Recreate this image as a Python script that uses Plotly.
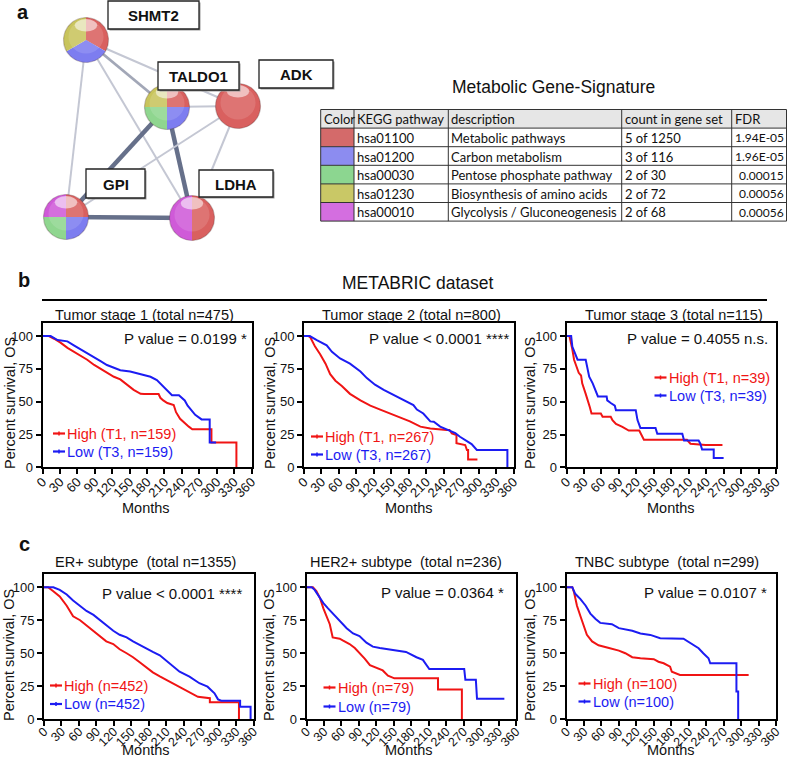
import plotly.graph_objects as go
import numpy as np

W, H = 788, 764
OFF = 0  # page body margin is reset to 0 below
ARIAL = "Liberation Sans, Arial, sans-serif"
CALI = "Lato, Open Sans, sans-serif"
RED = "#f01414"
BLUE = "#1c1cf2"

# ---------------- Panel a : network data ----------------
node_names = ["SHMT2", "TALDO1", "ADK", "GPI", "LDHA"]
node_x = [86, 167, 238, 66, 192]
node_y = [40, 107, 106, 217, 218]
node_r = 22.5
# wedges: (pathway colour key, start angle, end angle) in degrees, math convention
node_wedges = [
    [("red", -30, 90), ("blue", -150, -30), ("yellow", 90, 210)],
    [("red", 0, 90), ("yellow", 90, 180), ("green", 180, 270), ("blue", 270, 360)],
    [("red", 0, 360)],
    [("red", 0, 90), ("magenta", 90, 180), ("green", 180, 270), ("blue", 270, 360)],
    [("red", -90, 90), ("magenta", 90, 270)],
]
sphere_colors = {"red": "#d9605f", "blue": "#7d7df0", "green": "#8fd68f",
                 "yellow": "#c8c45c", "magenta": "#cf5ad8"}
edge_a = ["SHMT2", "SHMT2", "SHMT2", "SHMT2", "TALDO1", "TALDO1", "TALDO1", "ADK", "ADK", "GPI"]
edge_b = ["TALDO1", "GPI", "LDHA", "ADK", "ADK", "GPI", "LDHA", "GPI", "LDHA", "LDHA"]
edge_kind = ["mid", "thin", "thin", "thin", "thin", "thick", "thick", "thin", "thin", "thick"]
label_x0 = [108, 158, 259, 86, 199]
label_y0 = [1, 62, 60, 169, 170]
label_x1 = [199, 239, 333, 145, 273]
label_y1 = [29, 90, 88, 198, 197]

# ---------------- Panel a : table data ----------------
table_header = ["Color", "KEGG pathway", "description", "count in gene set", "FDR"]
table_color = ["#d46a6a", "#8c8cf0", "#8cd690", "#c9c866", "#d46ee0"]
table_kegg = ["hsa01100", "hsa01200", "hsa00030", "hsa01230", "hsa00010"]
table_desc = ["Metabolic pathways", "Carbon metabolism", "Pentose phosphate pathway",
              "Biosynthesis of amino acids", "Glycolysis / Gluconeogenesis"]
table_count = ["5 of 1250", "3 of 116", "2 of 30", "2 of 72", "2 of 68"]
table_fdr = ["1.94E-05", "1.96E-05", "0.00015", "0.00056", "0.00056"]

# ---------------- Kaplan-Meier curves (months, percent survival) ----------------
b1_high_t = [0, 11, 20, 31, 43, 54, 66, 77, 89, 100, 111, 123, 134, 146, 157, 169, 175, 200, 203, 208, 215, 226, 230, 237, 245, 252, 258, 291, 291, 334, 334]
b1_high_s = [100, 100, 98, 95, 91, 88, 85, 82, 78, 75, 72, 69, 67, 63, 59, 56, 55.8, 55.8, 53, 51, 49, 47.5, 42, 37, 33.5, 31, 29, 29, 19, 19, 0]
b1_low_t = [0, 14, 26, 43, 54, 66, 77, 89, 100, 111, 123, 134, 151, 169, 186, 197, 203, 214, 223, 235, 245, 250, 257, 263, 274, 288, 288, 299]
b1_low_s = [100, 100, 97, 96, 93, 90, 87, 84, 81, 78, 76, 74, 73, 71, 69, 66.5, 64, 59, 55, 55, 51, 47, 43.6, 40, 36.5, 36.5, 19, 19]

b2_high_t = [0, 8, 11, 19, 28, 37, 45, 54, 65, 79, 97, 114, 131, 148, 165, 182, 200, 217, 245, 250, 254, 260, 262, 262, 277, 280, 282, 282, 298]
b2_high_s = [100, 100, 99, 92, 86, 79, 71, 66, 62, 56, 51, 47, 44, 41, 38.5, 35, 31, 29.5, 28.4, 28.4, 25.9, 24.6, 24.6, 18.3, 17, 13.2, 13.2, 6, 6]
b2_low_t = [0, 10, 22, 39, 48, 62, 79, 97, 108, 122, 137, 148, 165, 182, 188, 194, 205, 217, 223, 234, 251, 260, 268, 277, 288, 297, 349.5, 349.5]
b2_low_s = [100, 100, 97, 93, 88, 83, 79, 73, 68, 63, 59, 56.5, 52.5, 48.5, 47.4, 44, 41, 35, 34.7, 31, 28, 26, 23.3, 20.8, 17.7, 13.2, 13.2, 0]

b3_high_t = [0, 5, 10, 13, 17, 21, 25, 27, 33, 37, 40, 43, 59, 62, 76, 79, 85, 96, 107, 125, 128, 133, 207, 213, 239, 268]
b3_high_s = [100, 100, 90, 82, 77, 72, 70, 64, 56, 51, 46, 41, 41, 38.5, 38.5, 35.9, 33, 30.8, 28, 28, 25.6, 21, 21, 18, 17, 17]
b3_low_t = [0, 8, 10, 15, 19, 33, 36, 39, 45, 50, 54, 69, 70, 76, 83, 85, 119, 122, 127, 153, 156, 199, 202, 227, 230, 233, 253, 253, 270]
b3_low_s = [100, 100, 92, 87, 82, 82, 76, 69, 64, 59, 54, 54, 51, 49, 47, 43.5, 43.5, 36, 30, 30, 25.5, 25.5, 20.5, 20.5, 18, 13.5, 13.5, 7, 7]

c1_high_t = [0, 7, 16, 27, 39, 50, 62, 73, 85, 96, 107, 119, 130, 142, 153, 165, 176, 187, 199, 216, 233, 250, 264.5, 285, 285, 335, 335]
c1_high_s = [100, 100, 97, 93, 86, 78, 75, 71, 67, 63, 59, 57, 53, 50, 47, 43, 39, 35.5, 32.5, 28.5, 24.7, 20.2, 17, 16, 12.9, 12.9, 0]
c1_low_t = [0, 16, 27, 39, 50, 62, 73, 85, 96, 107, 119, 130, 142, 153, 165, 176, 187, 199, 216, 233, 250, 267, 281, 293, 299, 304.6, 337, 337, 355, 355]
c1_low_s = [100, 100, 98, 94.5, 90, 86, 82, 79, 75, 71, 67, 64, 62, 59, 56, 53.5, 51, 48.5, 42.4, 36, 32.3, 27.3, 24.7, 19.7, 15.1, 14.1, 14.1, 9.5, 9.5, 0]

c2_high_t = [0, 11, 17, 23, 29, 34, 40, 45, 57, 63, 74, 83, 91, 100, 109, 114, 131, 140, 151, 226, 226, 267, 267]
c2_high_s = [100, 100, 97, 92, 84, 79, 72, 62, 61, 59.5, 57, 54, 50.5, 46, 41, 40, 37, 33, 31, 31, 22.5, 22.5, 0]
c2_low_t = [0, 9, 14, 20, 29, 37, 46, 57, 69, 80, 91, 103, 114, 126, 149, 171, 189, 200, 211, 271, 273, 291, 293, 340]
c2_low_s = [100, 100, 98, 94, 88, 84, 80, 75, 69, 65, 63, 58, 55, 54, 52.5, 51, 47, 45, 38, 38, 30, 30, 15.5, 15.5]

c3_high_t = [0, 10, 13, 18, 24, 30, 35, 44, 55, 73, 90, 101, 113, 127, 150, 158, 167, 178, 181, 195, 313]
c3_high_s = [100, 100, 96, 86, 78, 70, 64, 59, 56, 54, 52, 50, 47, 46.2, 45.5, 43.6, 42.4, 39.8, 36, 33.5, 33.5]
c3_low_t = [0, 10, 15, 24, 33, 41, 50, 58, 78, 90, 113, 127, 144, 161, 201, 212.6, 227, 235, 244, 247, 292, 292, 295, 295]
c3_low_s = [100, 100, 95, 91, 86, 80, 76, 73, 72, 69, 67, 65, 63.9, 61.4, 61, 57.6, 53.8, 50, 46.2, 42.4, 42.4, 21, 21, 0]

panel_titles = ["Tumor stage 1 (total n=475)", "Tumor stage 2 (total n=800)", "Tumor stage 3 (total n=115)",
                "ER+ subtype\u00a0\u00a0(total n=1355)", "HER2+ subtype\u00a0\u00a0(total n=236)", "TNBC subtype\u00a0\u00a0(total n=299)"]
panel_pvals = ["P value = 0.0199 *", "P value &lt; 0.0001 ****", "P value = 0.4055 n.s.",
               "P value &lt; 0.0001 ****", "P value = 0.0364 *", "P value = 0.0107 *"]
legend_high = ["High (T1, n=159)", "High (T1, n=267)", "High (T1, n=39)", "High (n=452)", "High (n=79)", "High (n=100)"]
legend_low = ["Low (T3, n=159)", "Low (T3, n=267)", "Low (T3, n=39)", "Low (n=452)", "Low (n=79)", "Low (n=100)"]
x_ticks = list(range(0, 361, 30))
y_ticks = [0, 25, 50, 75, 100]

curves = [
    (b1_high_t, b1_high_s, b1_low_t, b1_low_s),
    (b2_high_t, b2_high_s, b2_low_t, b2_low_s),
    (b3_high_t, b3_high_s, b3_low_t, b3_low_s),
    (c1_high_t, c1_high_s, c1_low_t, c1_low_s),
    (c2_high_t, c2_high_s, c2_low_t, c2_low_s),
    (c3_high_t, c3_high_s, c3_low_t, c3_low_s),
]

# ---------------- layout geometry (screen pixels) ----------------
box_x = [(42.5, 251.5), (304, 513.5), (566.5, 776), (44, 253.5), (306.5, 516), (566.5, 776)]
box_y = [(323, 467.3)] * 3 + [(574, 719.3)] * 3
xtick_size = [13, 13, 13, 12.5, 12.5, 12.5]
xtick_standoff = [-5, -5, -5, -7, -7, -7]
title_pos = [(144, 315), (411, 315), (674, 315), (145, 562), (406, 562), (667, 562)]
pval_pos = [(248, 338), (510, 338), (769, 338), (243, 593), (505, 592), (768, 592)]
leg_pos = [(53, 433.5, 451.5), (311, 436.5, 454.5), (654.5, 377.5, 395.5),
           (50, 685.5, 704), (323.5, 687.5, 706.5), (578.5, 683.5, 701.5)]
ytitle_pos = [(10, 403), (270, 403), (530, 403), (9, 655), (269, 655), (530, 655)]
xtitle_pos = [(146, 508), (409, 508), (671, 508), (146, 750), (409, 750), (671, 750)]


def fx(s):
    return (s - OFF) / W


def fy(s):
    return 1 - (s - OFF) / H


fig = go.Figure()
layout = dict(template="none", width=W, height=H, margin=dict(l=0, r=0, t=0, b=0, pad=0), autosize=False,
              paper_bgcolor="white", plot_bgcolor="rgba(0,0,0,0)", showlegend=False)

for i in range(6):
    k = i + 1
    xs = "" if k == 1 else str(k)
    x0, x1 = box_x[i]
    y0, y1 = box_y[i]
    layout["xaxis" + xs] = dict(domain=[fx(x0), fx(x1)], anchor="y" + xs, range=[0, 360], automargin=False,
                                tickvals=x_ticks, ticks="outside", ticklen=5, tickwidth=1.5, tickcolor="black",
                                showline=True, linewidth=2, linecolor="black", mirror=True,
                                showgrid=False, zeroline=False, tickangle=-45, fixedrange=True,
                                ticklabelstandoff=xtick_standoff[i],
                                tickfont=dict(family=ARIAL, size=xtick_size[i], color="#111"))
    layout["yaxis" + xs] = dict(domain=[fy(y1), fy(y0)], anchor="x" + xs, range=[0, 110], automargin=False,
                                tickvals=y_ticks, ticks="outside", ticklen=5, tickwidth=1.5, tickcolor="black",
                                showline=True, linewidth=2, linecolor="black", mirror=True,
                                showgrid=False, zeroline=False, fixedrange=True,
                                tickfont=dict(family=ARIAL, size=13, color="#111"))
    ht, hs, lt, ls = curves[i]
    fig.add_trace(go.Scatter(x=ht, y=hs, mode="lines", line=dict(color=RED, width=2),
                             xaxis="x" + xs, yaxis="y" + xs, hoverinfo="skip"))
    fig.add_trace(go.Scatter(x=lt, y=ls, mode="lines", line=dict(color=BLUE, width=2),
                             xaxis="x" + xs, yaxis="y" + xs, hoverinfo="skip"))

# screen-pixel overlay axis
layout["xaxis7"] = dict(domain=[0, 1], range=[OFF, W + OFF], visible=False, fixedrange=True, anchor="y7", automargin=False)
layout["yaxis7"] = dict(domain=[0, 1], range=[H + OFF, OFF], visible=False, fixedrange=True, anchor="x7", automargin=False)

shapes = []
ann = []


def text(x, y, s, size, color="#111", family=ARIAL, xanchor="center", yanchor="middle", angle=0):
    ann.append(dict(x=x, y=y, xref="x7", yref="y7", text=s, showarrow=False, xanchor=xanchor,
                    yanchor=yanchor, textangle=angle, borderpad=0,
                    font=dict(family=family, size=size, color=color)))


# ---- network edges ----
edge_style = {"thin": ("#c4c7d3", 2), "mid": ("#a2a7b7", 2.8), "thick": ("#66708a", 4.5)}
for a, b, kd in zip(edge_a, edge_b, edge_kind):
    ia, ib = node_names.index(a), node_names.index(b)
    col, wd = edge_style[kd]
    fig.add_trace(go.Scatter(x=[node_x[ia], node_x[ib]], y=[node_y[ia], node_y[ib]], mode="lines",
                             line=dict(color=col, width=wd), xaxis="x7", yaxis="y7", hoverinfo="skip"))

# ---- network nodes (pie spheres) ----
for i, name in enumerate(node_names):
    cx, cy = node_x[i], node_y[i]
    for key, a0, a1 in node_wedges[i]:
        ang = np.radians(np.linspace(a0, a1, 60))
        px = np.concatenate([[cx], cx + node_r * np.cos(ang), [cx]])
        py = np.concatenate([[cy], cy - node_r * np.sin(ang), [cy]])
        if a1 - a0 >= 360:
            px, py = px[1:-1], py[1:-1]
        fig.add_trace(go.Scatter(x=px, y=py, mode="lines", fill="toself", fillcolor=sphere_colors[key],
                                 line=dict(width=0, color=sphere_colors[key]), xaxis="x7", yaxis="y7",
                                 hoverinfo="skip"))
    r = node_r
    shapes.append(dict(type="circle", xref="x7", yref="y7", x0=cx - 0.78 * r, x1=cx + 0.78 * r,
                       y0=cy - 0.9 * r, y1=cy + 0.6 * r, fillcolor="rgba(255,255,255,0.13)", line=dict(width=0)))
    shapes.append(dict(type="circle", xref="x7", yref="y7", x0=cx - 0.5 * r, x1=cx + 0.5 * r,
                       y0=cy - 0.93 * r, y1=cy - 0.38 * r, fillcolor="rgba(255,255,255,0.55)", line=dict(width=0)))
    shapes.append(dict(type="circle", xref="x7", yref="y7", x0=cx - r, x1=cx + r, y0=cy - r, y1=cy + r,
                       fillcolor="rgba(0,0,0,0)", line=dict(width=1.2, color="rgba(60,30,30,0.25)")))

# ---- node label boxes ----
for i, name in enumerate(node_names):
    shapes.append(dict(type="rect", xref="x7", yref="y7", x0=label_x0[i] + 1.5, x1=label_x1[i] + 1.5,
                       y0=label_y0[i] + 1.5, y1=label_y1[i] + 1.5, fillcolor="#9a9a9a", line=dict(width=0)))
    shapes.append(dict(type="rect", xref="x7", yref="y7", x0=label_x0[i], x1=label_x1[i],
                       y0=label_y0[i], y1=label_y1[i], fillcolor="white", line=dict(width=1.3, color="#222")))
    text((label_x0[i] + label_x1[i]) / 2, (label_y0[i] + label_y1[i]) / 2 + 0.5, "<b>" + name + "</b>", 15)

# ---- table ----
col_edges = [320.7, 354, 448.3, 621.7, 731.7, 786.5]
row_top, row_h = 109.5, 18.6
n_rows = len(table_kegg) + 1
shapes.append(dict(type="rect", xref="x7", yref="y7", x0=col_edges[0], x1=col_edges[-1], y0=row_top,
                   y1=row_top + row_h, fillcolor="#e6e6e6", line=dict(width=0)))
for j, c in enumerate(table_color):
    shapes.append(dict(type="rect", xref="x7", yref="y7", x0=col_edges[0], x1=col_edges[1],
                       y0=row_top + (j + 1) * row_h, y1=row_top + (j + 2) * row_h, fillcolor=c, line=dict(width=0)))
for r_ in range(n_rows + 1):
    yy = row_top + r_ * row_h
    shapes.append(dict(type="line", xref="x7", yref="y7", x0=col_edges[0], x1=col_edges[-1], y0=yy, y1=yy,
                       line=dict(color="#333", width=1)))
for xx in col_edges:
    shapes.append(dict(type="line", xref="x7", yref="y7", x0=xx, x1=xx, y0=row_top, y1=row_top + n_rows * row_h,
                       line=dict(color="#333", width=1)))
rows = [table_header] + [["", table_kegg[j], table_desc[j], table_count[j], table_fdr[j]] for j in range(len(table_kegg))]
for r_, row in enumerate(rows):
    yc = row_top + (r_ + 0.5) * row_h + 0.5
    for c_, val in enumerate(row):
        if not val:
            continue
        if c_ == 4 and r_ > 0:
            text(col_edges[5] - 1.5, yc, val, 12, family=CALI, xanchor="right")
        else:
            text(col_edges[c_] + 2, yc, val, 13, family=CALI, xanchor="left")
text(553, 87, "Metabolic Gene-Signature", 17.5)

# ---- panel labels & headings ----
text(23, 12, "<b>a</b>", 20)
text(24, 280, "<b>b</b>", 20)
text(24, 544, "<b>c</b>", 20)
text(418, 283, "METABRIC dataset", 17.5)
shapes.append(dict(type="line", xref="x7", yref="y7", x0=42, x1=767, y0=300, y1=300,
                   line=dict(color="black", width=2)))

# ---- KM panel texts ----
for i in range(6):
    text(title_pos[i][0], title_pos[i][1], panel_titles[i], 14.5)
    text(pval_pos[i][0], pval_pos[i][1], panel_pvals[i], 15, xanchor="right")
    lx, yh, yl = leg_pos[i]
    for yy, col, lab in [(yh, RED, legend_high[i]), (yl, BLUE, legend_low[i])]:
        shapes.append(dict(type="line", xref="x7", yref="y7", x0=lx, x1=lx + 12, y0=yy, y1=yy,
                           line=dict(color=col, width=2.2)))
        shapes.append(dict(type="line", xref="x7", yref="y7", x0=lx + 6, x1=lx + 6, y0=yy - 2, y1=yy + 2,
                           line=dict(color=col, width=1.5)))
        text(lx + 13, yy, lab, 14.5, color=col, xanchor="left")
    text(ytitle_pos[i][0], ytitle_pos[i][1], "Percent survival, OS", 14.5, angle=-90)
    text(xtitle_pos[i][0], xtitle_pos[i][1], "Months", 14.5)

for s in shapes:
    s.setdefault("layer", "above")
layout["shapes"] = shapes
layout["annotations"] = ann
fig.update_layout(**layout)
fig.write_html("out.html", config={"displayModeBar": False},
               post_script="document.body.style.margin='0px';")
